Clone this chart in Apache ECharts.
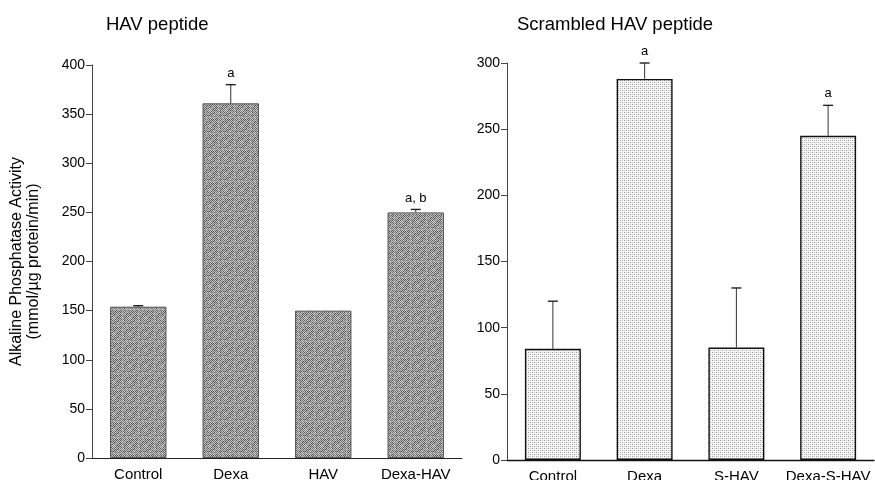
<!DOCTYPE html>
<html><head><meta charset="utf-8">
<script src="https://cdn.jsdelivr.net/npm/echarts@6/dist/echarts.min.js"></script>
<style>html,body{margin:0;padding:0;background:#fff}#c{width:875px;height:480px}</style>
</head><body><div id="c"></div>
<script>
const leftCategories = ['Control', 'Dexa', 'HAV', 'Dexa-HAV'];
const leftValues = [154, 361, 150, 250];
const leftErrTop = [155, 380, 150, 253];
const leftLetters = ['', 'a', '', 'a, b'];

const rightCategories = ['Control', 'Dexa', 'S-HAV', 'Dexa-S-HAV'];
const rightValues = [84, 288, 85, 245];
const rightErrTop = [120, 300, 130, 268];
const rightLetters = ['', 'a', '', 'a'];

const leftTicks = [0, 50, 100, 150, 200, 250, 300, 350, 400];
const rightTicks = [0, 50, 100, 150, 200, 250, 300];

function darkPattern() {
  const n = 16;
  const c = document.createElement('canvas'); c.width = n; c.height = n;
  const g = c.getContext('2d');
  g.fillStyle = '#c4c4c4'; g.fillRect(0, 0, n, n);
  for (let y = 0; y < n; y++) {
    for (let x = 0; x < n; x++) {
      const h = ((x * 37 + y * 91 + x * y * 13) % 17);
      if ((x + y) % 2 === 0) {
        g.fillStyle = h < 5 ? '#505050' : (h < 11 ? '#707070' : '#909090');
        g.fillRect(x, y, 1, 1);
      } else if (h < 3) {
        g.fillStyle = '#959595';
        g.fillRect(x, y, 1, 1);
      }
    }
  }
  return c;
}
function lightPattern() {
  const c = document.createElement('canvas'); c.width = 4; c.height = 4;
  const g = c.getContext('2d');
  g.fillStyle = '#f6f6f6'; g.fillRect(0, 0, 4, 4);
  g.fillStyle = '#9a9a9a';
  g.fillRect(0, 0, 1, 1); g.fillRect(2, 2, 1, 1);
  g.fillStyle = '#cacaca';
  g.fillRect(2, 0, 1, 1); g.fillRect(0, 2, 1, 1);
  return c;
}

const font = 'Liberation Sans, Arial, sans-serif';

function errSeries(idx, tops, letters) {
  const vals = idx === 0 ? leftValues : rightValues;
  return {
    type: 'custom', xAxisIndex: idx, yAxisIndex: idx, z: 5,
    data: tops.map((t, i) => [i, vals[i], t]),
    renderItem: function (params, api) {
      const base = api.coord([api.value(0), api.value(1)]);
      const top = api.coord([api.value(0), api.value(2)]);
      const children = [];
      if (base[1] - top[1] > 0.5) {
        children.push({ type: 'line', shape: { x1: base[0], y1: base[1], x2: top[0], y2: top[1] }, style: { stroke: '#333', lineWidth: 1 } });
        children.push({ type: 'line', shape: { x1: top[0] - 5, y1: top[1], x2: top[0] + 5, y2: top[1] }, style: { stroke: '#222', lineWidth: 1.4 } });
      }
      const lt = letters[params.dataIndex];
      if (lt) {
        children.push({ type: 'text', style: { text: lt, x: top[0], y: top[1] - 5, align: 'center', verticalAlign: 'bottom', font: '13px ' + font, fill: '#000' } });
      }
      return { type: 'group', children: children };
    }
  };
}

const chart = echarts.init(document.getElementById('c'), null, { renderer: 'canvas' });
const yLabel = { color: '#000', fontSize: 14, fontFamily: font, margin: 7 };
const xLabel = { color: '#000', fontSize: 15, fontFamily: font, margin: 9, interval: 0 };
chart.setOption({
  animation: false,
  backgroundColor: '#fff',
  title: [
    { text: 'HAV peptide', left: 101, top: 10, textStyle: { fontSize: 18.5, fontWeight: 'normal', color: '#000', fontFamily: font } },
    { text: 'Scrambled HAV peptide', left: 512, top: 10, textStyle: { fontSize: 18.5, fontWeight: 'normal', color: '#000', fontFamily: font } }
  ],
  grid: [
    { left: 92, right: 413, top: 65, bottom: 22, containLabel: false, outerBoundsMode: 'none' },
    { left: 507, right: 1, top: 63, bottom: 20, containLabel: false, outerBoundsMode: 'none' }
  ],
  xAxis: [
    { type: 'category', gridIndex: 0, data: leftCategories, axisTick: { show: false }, axisLine: { lineStyle: { color: '#222', width: 1 } }, axisLabel: xLabel },
    { type: 'category', gridIndex: 1, data: rightCategories, axisTick: { show: false }, axisLine: { lineStyle: { color: '#111', width: 1.4 } }, axisLabel: xLabel }
  ],
  yAxis: [
    { type: 'value', gridIndex: 0, min: leftTicks[0], max: leftTicks[leftTicks.length - 1], interval: leftTicks[1] - leftTicks[0],
      splitLine: { show: false }, axisLine: { show: true, lineStyle: { color: '#444' } }, axisTick: { show: true, length: 6, lineStyle: { color: '#444' } },
      axisLabel: yLabel,
      name: 'Alkaline Phosphatase Activity\n(mmol/\u00b5g protein/min)', nameLocation: 'middle', nameGap: 50, nameRotate: 90,
      nameTextStyle: { fontSize: 16, color: '#000', fontFamily: font, lineHeight: 17 } },
    { type: 'value', gridIndex: 1, min: rightTicks[0], max: rightTicks[rightTicks.length - 1], interval: rightTicks[1] - rightTicks[0],
      splitLine: { show: false }, axisLine: { show: true, lineStyle: { color: '#444' } }, axisTick: { show: true, length: 6, lineStyle: { color: '#444' } },
      axisLabel: yLabel }
  ],
  series: [
    { type: 'bar', xAxisIndex: 0, yAxisIndex: 0, data: leftValues, barCategoryGap: '39%',
      itemStyle: { color: { image: darkPattern(), repeat: 'repeat' }, borderColor: '#555', borderWidth: 1 } },
    { type: 'bar', xAxisIndex: 1, yAxisIndex: 1, data: rightValues, barCategoryGap: '39%',
      itemStyle: { color: { image: lightPattern(), repeat: 'repeat' }, borderColor: '#111', borderWidth: 1.4 } },
    errSeries(0, leftErrTop, leftLetters),
    errSeries(1, rightErrTop, rightLetters)
  ]
});
</script></body></html>
